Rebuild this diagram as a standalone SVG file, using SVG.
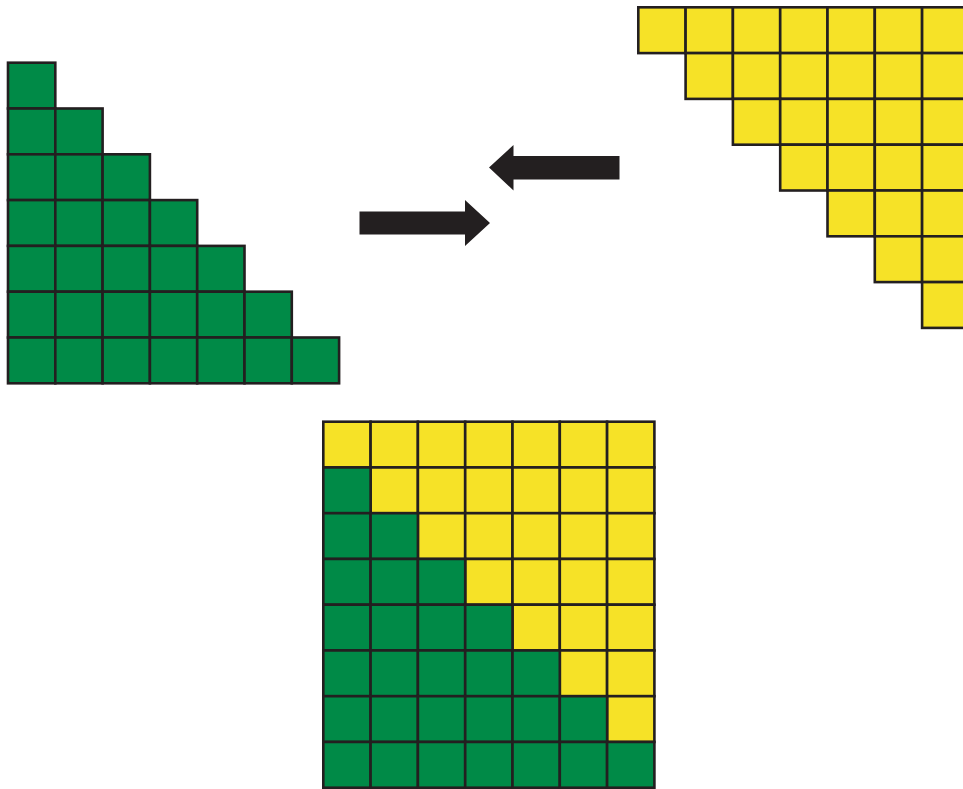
<svg xmlns="http://www.w3.org/2000/svg" xmlns:xlink="http://www.w3.org/1999/xlink" width="963" height="789" viewBox="0 0 963 789">
<style>
.g{fill:#008A47;stroke:#231F20;stroke-width:2.6}
.y{fill:#F6E227;stroke:#231F20;stroke-width:2.6}
.arr{fill:#231F20;stroke:none}
</style>
<defs>
<rect id="c" width="47.3" height="45.8"/>
<rect id="b" width="47.3" height="45.75"/>
</defs>
<rect width="963" height="789" fill="#ffffff"/>
<g id="green-triangle" class="g">
<use href="#c" x="8" y="62.7"/>
<use href="#c" x="8" y="108.5"/><use href="#c" x="55.3" y="108.5"/>
<use href="#c" x="8" y="154.3"/><use href="#c" x="55.3" y="154.3"/><use href="#c" x="102.6" y="154.3"/>
<use href="#c" x="8" y="200.1"/><use href="#c" x="55.3" y="200.1"/><use href="#c" x="102.6" y="200.1"/><use href="#c" x="149.9" y="200.1"/>
<use href="#c" x="8" y="245.9"/><use href="#c" x="55.3" y="245.9"/><use href="#c" x="102.6" y="245.9"/><use href="#c" x="149.9" y="245.9"/><use href="#c" x="197.2" y="245.9"/>
<use href="#c" x="8" y="291.7"/><use href="#c" x="55.3" y="291.7"/><use href="#c" x="102.6" y="291.7"/><use href="#c" x="149.9" y="291.7"/><use href="#c" x="197.2" y="291.7"/><use href="#c" x="244.5" y="291.7"/>
<use href="#c" x="8" y="337.5"/><use href="#c" x="55.3" y="337.5"/><use href="#c" x="102.6" y="337.5"/><use href="#c" x="149.9" y="337.5"/><use href="#c" x="197.2" y="337.5"/><use href="#c" x="244.5" y="337.5"/><use href="#c" x="291.8" y="337.5"/>
</g>
<g id="yellow-triangle" class="y">
<use href="#c" x="638.3" y="7.3"/><use href="#c" x="685.6" y="7.3"/><use href="#c" x="732.9" y="7.3"/><use href="#c" x="780.2" y="7.3"/><use href="#c" x="827.5" y="7.3"/><use href="#c" x="874.8" y="7.3"/><use href="#c" x="922.1" y="7.3"/>
<use href="#c" x="685.6" y="53.1"/><use href="#c" x="732.9" y="53.1"/><use href="#c" x="780.2" y="53.1"/><use href="#c" x="827.5" y="53.1"/><use href="#c" x="874.8" y="53.1"/><use href="#c" x="922.1" y="53.1"/>
<use href="#c" x="732.9" y="98.9"/><use href="#c" x="780.2" y="98.9"/><use href="#c" x="827.5" y="98.9"/><use href="#c" x="874.8" y="98.9"/><use href="#c" x="922.1" y="98.9"/>
<use href="#c" x="780.2" y="144.7"/><use href="#c" x="827.5" y="144.7"/><use href="#c" x="874.8" y="144.7"/><use href="#c" x="922.1" y="144.7"/>
<use href="#c" x="827.5" y="190.5"/><use href="#c" x="874.8" y="190.5"/><use href="#c" x="922.1" y="190.5"/>
<use href="#c" x="874.8" y="236.3"/><use href="#c" x="922.1" y="236.3"/>
<use href="#c" x="922.1" y="282.1"/>
</g>
<g id="combined-square">
<g class="y">
<use href="#b" x="323.3" y="421.7"/><use href="#b" x="370.6" y="421.7"/><use href="#b" x="417.9" y="421.7"/><use href="#b" x="465.2" y="421.7"/><use href="#b" x="512.5" y="421.7"/><use href="#b" x="559.8" y="421.7"/><use href="#b" x="607.1" y="421.7"/>
<use href="#b" x="370.6" y="467.45"/><use href="#b" x="417.9" y="467.45"/><use href="#b" x="465.2" y="467.45"/><use href="#b" x="512.5" y="467.45"/><use href="#b" x="559.8" y="467.45"/><use href="#b" x="607.1" y="467.45"/>
<use href="#b" x="417.9" y="513.2"/><use href="#b" x="465.2" y="513.2"/><use href="#b" x="512.5" y="513.2"/><use href="#b" x="559.8" y="513.2"/><use href="#b" x="607.1" y="513.2"/>
<use href="#b" x="465.2" y="558.95"/><use href="#b" x="512.5" y="558.95"/><use href="#b" x="559.8" y="558.95"/><use href="#b" x="607.1" y="558.95"/>
<use href="#b" x="512.5" y="604.7"/><use href="#b" x="559.8" y="604.7"/><use href="#b" x="607.1" y="604.7"/>
<use href="#b" x="559.8" y="650.45"/><use href="#b" x="607.1" y="650.45"/>
<use href="#b" x="607.1" y="696.2"/>
</g>
<g class="g">
<use href="#b" x="323.3" y="467.45"/>
<use href="#b" x="323.3" y="513.2"/><use href="#b" x="370.6" y="513.2"/>
<use href="#b" x="323.3" y="558.95"/><use href="#b" x="370.6" y="558.95"/><use href="#b" x="417.9" y="558.95"/>
<use href="#b" x="323.3" y="604.7"/><use href="#b" x="370.6" y="604.7"/><use href="#b" x="417.9" y="604.7"/><use href="#b" x="465.2" y="604.7"/>
<use href="#b" x="323.3" y="650.45"/><use href="#b" x="370.6" y="650.45"/><use href="#b" x="417.9" y="650.45"/><use href="#b" x="465.2" y="650.45"/><use href="#b" x="512.5" y="650.45"/>
<use href="#b" x="323.3" y="696.2"/><use href="#b" x="370.6" y="696.2"/><use href="#b" x="417.9" y="696.2"/><use href="#b" x="465.2" y="696.2"/><use href="#b" x="512.5" y="696.2"/><use href="#b" x="559.8" y="696.2"/>
<use href="#b" x="323.3" y="741.95"/><use href="#b" x="370.6" y="741.95"/><use href="#b" x="417.9" y="741.95"/><use href="#b" x="465.2" y="741.95"/><use href="#b" x="512.5" y="741.95"/><use href="#b" x="559.8" y="741.95"/><use href="#b" x="607.1" y="741.95"/>
</g>
</g>
<g id="connectors" class="arr">
<polygon points="359.5,211.5 465,211.5 465,200 490,223 465,246 465,234.5 359.5,234.5"/>
<polygon points="619.5,156 513.5,156 513.5,145 489,167.5 513.5,190.5 513.5,179.5 619.5,179.5"/>
</g>
</svg>
